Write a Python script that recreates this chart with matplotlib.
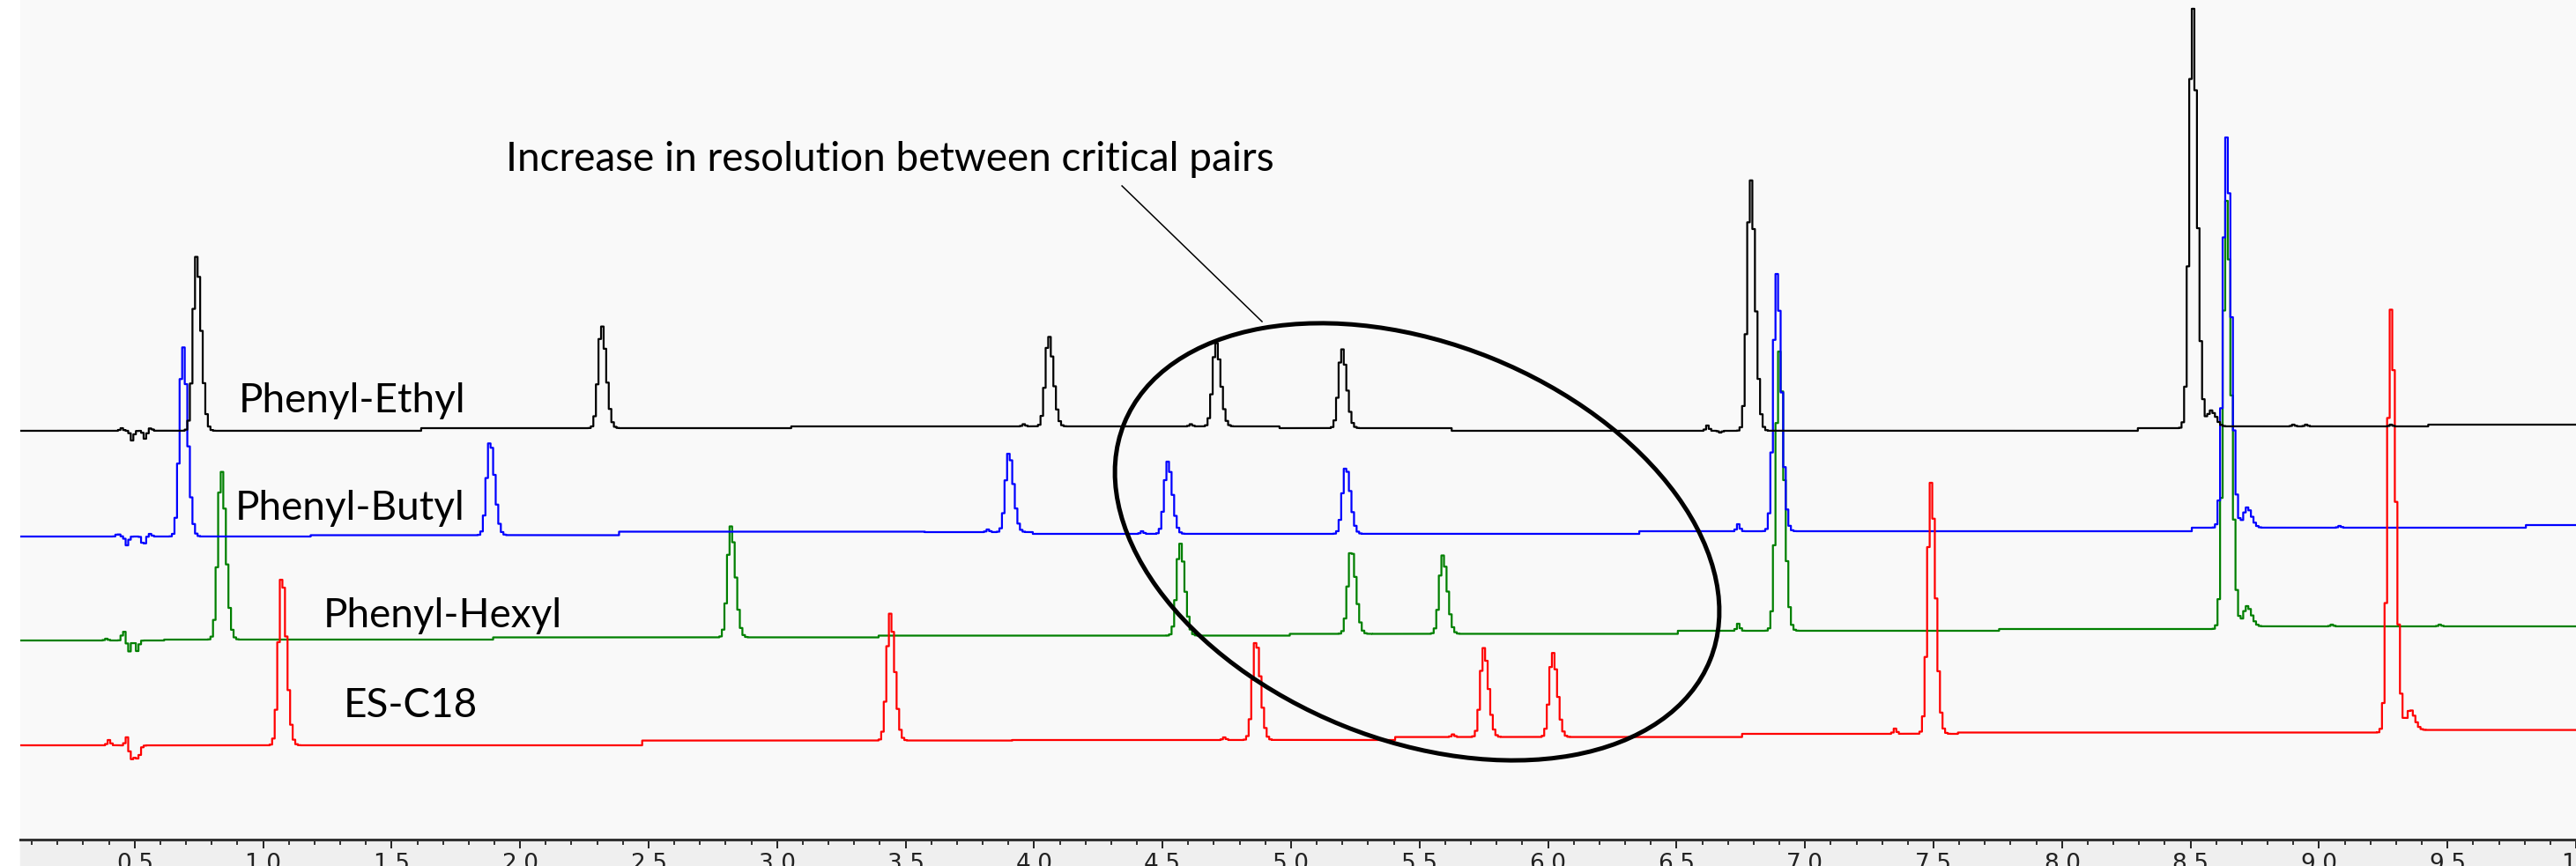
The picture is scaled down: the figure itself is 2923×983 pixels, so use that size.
import numpy as np
import matplotlib.pyplot as plt
from matplotlib.patches import Ellipse, Rectangle
from matplotlib.ticker import MultipleLocator

# retention time grid (min), coarse so the traces keep the stepped detector look
time_min = np.arange(0.0, 10.05, 0.01)

# peaks: retention time (min) and height above the local baseline
# (negative heights = the injection disturbance near 0.5 min)
ethyl_rt = [0.449, 0.49, 0.54, 0.562, 0.741, 2.317, 3.96, 4.057, 4.61, 4.708,
            5.198, 6.62, 6.67, 6.788, 8.508, 8.58, 8.90, 8.95, 9.28]
ethyl_h = [3, -11, -9, 3, 198, 117, 2.5, 103, 2.5, 95,
           90, 6, -2, 286, 479, 20, 2, 2, 2]

butyl_rt = [0.435, 0.47, 0.535, 0.56, 0.688, 1.883, 3.82, 3.902, 4.42, 4.52,
            5.213, 6.74, 6.89, 8.64, 8.72, 9.08]
butyl_h = [3, -10, -10, 3, 216, 107, 3, 90, 3, 82,
           76, 8, 292, 443, 23, 2]

hexyl_rt = [0.39, 0.457, 0.478, 0.51, 0.837, 2.82, 4.568, 5.234, 5.59, 6.74,
            6.9, 8.64, 8.72, 9.05, 9.47]
hexyl_h = [2, 11, -13, -12, 193, 126, 105, 96, 89, 8,
           317, 486, 23, 2, 2]

c18_rt = [0.40, 0.47, 0.49, 0.515, 1.073, 3.44, 4.74, 4.863, 5.63, 5.75,
          6.018, 7.35, 7.49, 9.28, 9.355]
c18_h = [6, 14, -16, -9, 193, 144, 3, 113, 3, 101,
         96, 6, 285, 480, 23]

# baseline drift: step times (min) and level after each step
ethyl_step_t = [0.0, 1.62, 3.06, 4.96, 5.63, 8.30, 8.60, 9.43]
ethyl_step_lvl = [0, 3, 5, 3, 0, 3, 5, 7]
butyl_step_t = [0.0, 1.19, 2.39, 3.58, 4.0, 6.36, 8.51, 9.81]
butyl_step_lvl = [0, 1.5, 5.5, 5, 3, 6, 10, 13]
hexyl_step_t = [0.0, 0.62, 1.90, 3.40, 5.0, 6.51, 7.76, 8.65]
hexyl_step_lvl = [0, 1, 3.5, 5.5, 7.5, 11, 13, 16]
c18_step_t = [0.0, 2.48, 3.92, 5.41, 6.76, 7.6, 9.3]
c18_step_lvl = [0, 5.4, 6, 9.4, 13, 14.5, 17.4]

column_names = ["Phenyl-Ethyl", "Phenyl-Butyl", "Phenyl-Hexyl", "ES-C18"]

x_ticks = [0.5, 1.0, 1.5, 2.0, 2.5, 3.0, 3.5, 4.0, 4.5, 5.0,
           5.5, 6.0, 6.5, 7.0, 7.5, 8.0, 8.5, 9.0, 9.5, 10.0]
x_tick_labels = ["0.5", "1.0", "1.5", "2.0", "2.5", "3.0", "3.5", "4.0", "4.5", "5.0",
                 "5.5", "6.0", "6.5", "7.0", "7.5", "8.0", "8.5", "9.0", "9.5", "10"]

annotation = "Increase in resolution between critical pairs"


def make_trace(rt, h, step_t, step_lvl, offset):
    idx = np.searchsorted(step_t, time_min, side="right") - 1
    y = offset + np.array(step_lvl, dtype=float)[idx]
    for t0, hh in zip(rt, h):
        if abs(hh) < 15:
            s = np.where(time_min < t0, 0.006, 0.007)
        else:
            s = np.where(time_min < t0, 0.013, 0.018)
        y = y + hh * np.exp(-0.5 * ((time_min - t0) / s) ** 2)
    return y


W, H = 2923, 983
fig = plt.figure(figsize=(W / 100, H / 100), dpi=100)
fig.patch.set_facecolor("white")
# grey strip under the time axis (drawn before the axes)
fig.patches.append(Rectangle((23 / W, 0), 1, 30 / H, transform=fig.transFigure,
                             color="#efefef", zorder=-1))

ax = fig.add_axes([23 / W, 30 / H, 1 - 23 / W, 953 / H])
ax.set_facecolor("#f9f9f9")

traces = [
    (ethyl_rt, ethyl_h, ethyl_step_t, ethyl_step_lvl, 464, "black", 5),
    (butyl_rt, butyl_h, butyl_step_t, butyl_step_lvl, 344, "#0000ff", 3),
    (hexyl_rt, hexyl_h, hexyl_step_t, hexyl_step_lvl, 226, "#008000", 2),
    (c18_rt, c18_h, c18_step_t, c18_step_lvl, 107, "#ff0000", 4),
]
for rt, h, st, sl, off, col, z in traces:
    ax.plot(time_min, make_trace(rt, h, st, sl, off), color=col, lw=1.6,
            drawstyle="steps-mid", zorder=z)

# trace labels
lab_font = dict(family=["Lato", "DejaVu Sans"], fontsize=33, color="black", va="baseline")
ax.text(0.905, 485, column_names[0], **lab_font)
ax.text(0.892, 363, column_names[1], **lab_font)
ax.text(1.235, 241, column_names[2], **lab_font)
ax.text(1.313, 139, column_names[3], **lab_font)

# callout
ax.text(1.944, 772, annotation, family=["Lato", "DejaVu Sans"], fontsize=33,
        color="black", va="center")
ax.plot([4.342, 4.887], [742, 588], color="black", lw=1.1, zorder=6)
fig.patches.append(Ellipse((16.08, 3.68), 7.17, 4.50, angle=-22,
                           transform=fig.dpi_scale_trans, fill=False,
                           ec="black", lw=3.6, zorder=10))

ax.set_xlim(0.055, 10.0)
ax.set_ylim(0, 953)
ax.set_yticks([])
for side in ["top", "left", "right"]:
    ax.spines[side].set_visible(False)
ax.spines["bottom"].set_color("#333333")
ax.spines["bottom"].set_linewidth(2.2)

ax.set_xticks(x_ticks)
ax.set_xticklabels(x_tick_labels, family="DejaVu Sans", fontsize=19, color="#222222")
ax.xaxis.set_minor_locator(MultipleLocator(0.1))
ax.tick_params(axis="x", which="major", direction="out", length=7.5, width=1.4,
               color="#222222", pad=3)
ax.tick_params(axis="x", which="minor", direction="out", length=4.5, width=1.3,
               color="#222222")

fig.savefig("out.png", dpi=100, facecolor=fig.get_facecolor())
